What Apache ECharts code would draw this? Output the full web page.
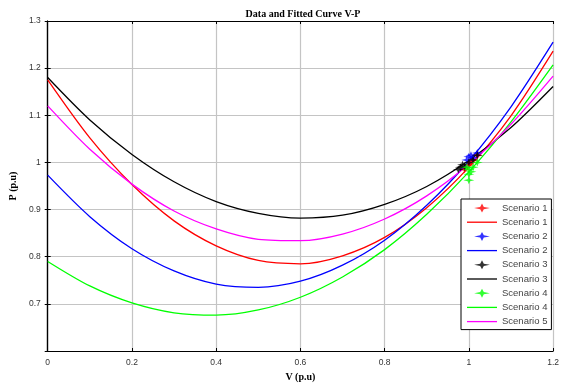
<!DOCTYPE html>
<html>
<head>
<meta charset="utf-8">
<script src="https://cdn.jsdelivr.net/npm/echarts@6/dist/echarts.min.js"></script>
<style>
  html, body { margin: 0; padding: 0; background: #fff; }
  #chart { width: 562px; height: 387px; }
</style>
</head>
<body>
<div id="chart"></div>
<script>
// fitted curves, read at V = 0, 0.1 ... 1.2
const vGrid = [0, 0.1, 0.2, 0.3, 0.4, 0.5, 0.6, 0.7, 0.8, 0.9, 1.0, 1.1, 1.2]
const fit1 = [1.175, 1.052, 0.953, 0.876, 0.823, 0.792, 0.785, 0.802, 0.841, 0.904, 0.990, 1.099, 1.236]
const fit2 = [0.973, 0.885, 0.817, 0.770, 0.742, 0.735, 0.748, 0.782, 0.835, 0.909, 1.003, 1.118, 1.255]
const fit3 = [1.180, 1.090, 1.017, 0.959, 0.917, 0.892, 0.882, 0.888, 0.911, 0.949, 1.004, 1.074, 1.161]
const fit4 = [0.790, 0.738, 0.702, 0.681, 0.676, 0.687, 0.714, 0.757, 0.815, 0.890, 0.980, 1.086, 1.207]
const fit5 = [1.120, 1.028, 0.954, 0.897, 0.859, 0.837, 0.834, 0.848, 0.880, 0.929, 0.996, 1.081, 1.183]

// measured points
const dataV1 = [0.99, 1.0, 1.005, 1.01, 1.02]
const dataP1 = [0.985, 0.995, 1.0, 1.005, 1.015]
const dataV2 = [0.995, 1.0, 1.005, 1.01, 1.02]
const dataP2 = [1.005, 1.012, 1.015, 1.01, 1.02]
const dataV3 = [0.975, 0.98, 0.985, 0.99, 1.0, 1.01, 1.02]
const dataP3 = [0.985, 0.99, 0.995, 0.99, 1.0, 1.005, 1.015]
const dataV4 = [0.995, 1.0, 1.0, 1.0, 1.005, 1.01, 1.02]
const dataP4 = [0.99, 0.985, 0.975, 0.962, 0.98, 0.99, 1.0]

const xTicks = [0, 0.2, 0.4, 0.6, 0.8, 1, 1.2]
const yTicks = [0.7, 0.8, 0.9, 1, 1.1, 1.2, 1.3]

const zip = (xs, ys) => xs.map((x, i) => [x, ys[i]])

// matlab style '*' marker and a plain legend line
const starPath = 'path://M7,0 L8.6,3 L14,4 L8.6,5 L7,8 L5.4,5 L0,4 L5.4,3 Z'
const linePath = 'path://M0,0 L30,0 L30,1.3 L0,1.3 Z'

const myChart = echarts.init(document.getElementById('chart'))

const fitLine = (name, color, vals) => ({
  name: name,
  type: 'line',
  data: zip(vGrid, vals),
  smooth: 0.3,
  symbol: 'none',
  lineStyle: { color: color, width: 1.3 },
  itemStyle: { color: color },
  z: 3
})
const dots = (name, color, xs, ys) => ({
  name: name,
  type: 'scatter',
  data: zip(xs, ys),
  symbol: starPath,
  symbolSize: [11, 8],
  itemStyle: { color: color },
  z: 4
})

const labelFont = { fontFamily: 'Liberation Sans', fontSize: 8.5, color: '#333' }
const titleFont = { fontFamily: 'Liberation Serif', fontSize: 10, fontWeight: 'bold', color: '#000' }

myChart.setOption({
  animation: false,
  title: {
    text: 'Data and Fitted Curve V-P',
    left: 298,
    top: 4,
    textAlign: 'center',
    textStyle: titleFont
  },
  grid: { left: 40, right: 6, top: 21, bottom: 30 },
  legend: {
    orient: 'vertical',
    left: 461,
    top: 199,
    padding: [4, 4, 3, 6],
    itemGap: 4.2,
    itemWidth: 30,
    itemHeight: 9,
    backgroundColor: '#fff',
    borderColor: '#000',
    borderWidth: 1,
    borderRadius: 0,
    textStyle: { fontFamily: 'Liberation Sans', fontSize: 9.5, color: '#444' },
    formatter: name => name.replace(/ (data|fit)$/, ''),
    data: [
      { name: 'Scenario 1 data', icon: starPath },
      { name: 'Scenario 1 fit', icon: linePath },
      { name: 'Scenario 2 data', icon: starPath },
      { name: 'Scenario 2 fit', icon: linePath },
      { name: 'Scenario 3 data', icon: starPath },
      { name: 'Scenario 3 fit', icon: linePath },
      { name: 'Scenario 4 data', icon: starPath },
      { name: 'Scenario 4 fit', icon: linePath },
      { name: 'Scenario 5 fit', icon: linePath }
    ]
  },
  xAxis: [{
    type: 'value',
    min: 0,
    max: 1.2,
    interval: 0.2,
    name: 'V (p.u)',
    nameLocation: 'middle',
    nameGap: 21,
    nameTextStyle: titleFont,
    axisLine: { lineStyle: { color: '#000', width: 1.2 } },
    axisTick: { inside: true, length: 3, lineStyle: { color: '#000' } },
    axisLabel: Object.assign({ margin: 7, formatter: v => xTicks.includes(+v.toFixed(1)) ? String(+v.toFixed(1)) : '' }, labelFont),
    splitLine: { show: true, lineStyle: { color: '#c4c4c4', width: 1.2 } }
  }, {
    type: 'value',
    position: 'top',
    min: 0,
    max: 1.2,
    interval: 0.2,
    axisLine: { lineStyle: { color: '#000', width: 1.2 } },
    axisTick: { inside: true, length: 3, lineStyle: { color: '#000' } },
    axisLabel: { show: false },
    splitLine: { show: false }
  }],
  yAxis: [{
    type: 'value',
    min: 0.6,
    max: 1.3,
    interval: 0.1,
    name: 'P (p.u)',
    nameLocation: 'middle',
    nameGap: 27,
    nameTextStyle: titleFont,
    axisLine: { show: true, lineStyle: { color: '#000', width: 1.2 } },
    axisTick: { show: true, inside: true, length: 3, lineStyle: { color: '#000' } },
    axisLabel: Object.assign({
      margin: 7,
      formatter: v => {
        const r = +v.toFixed(1)
        return yTicks.includes(r) ? String(r) : ''
      }
    }, labelFont),
    splitLine: { show: true, lineStyle: { color: '#c4c4c4', width: 1.2 } }
  }, {
    type: 'value',
    position: 'right',
    min: 0.6,
    max: 1.3,
    interval: 0.1,
    axisLine: { show: true, lineStyle: { color: '#000', width: 1.2 } },
    axisTick: { show: true, inside: true, length: 3, lineStyle: { color: '#000' } },
    axisLabel: { show: false },
    splitLine: { show: false }
  }],
  series: [
    fitLine('Scenario 1 fit', '#ff0000', fit1),
    fitLine('Scenario 2 fit', '#0000ff', fit2),
    fitLine('Scenario 3 fit', '#000000', fit3),
    fitLine('Scenario 4 fit', '#00ff00', fit4),
    fitLine('Scenario 5 fit', '#ff00ff', fit5),
    dots('Scenario 1 data', '#ff0000', dataV1, dataP1),
    dots('Scenario 2 data', '#0000ff', dataV2, dataP2),
    dots('Scenario 3 data', '#000000', dataV3, dataP3),
    dots('Scenario 4 data', '#00ff00', dataV4, dataP4)
  ]
})
</script>
</body>
</html>
